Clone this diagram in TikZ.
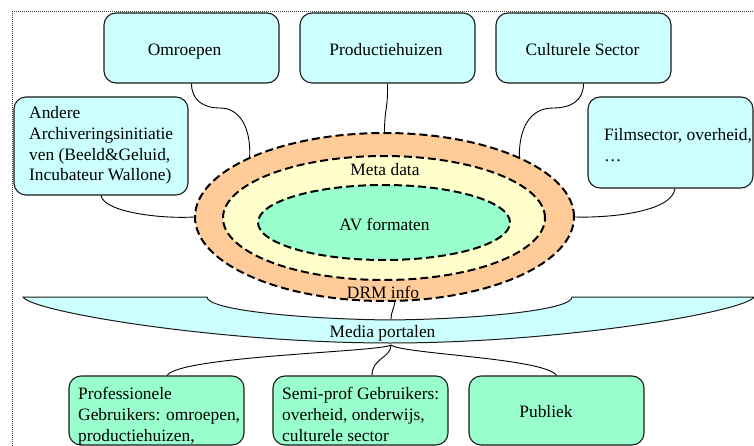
\documentclass[tikz,border=0pt]{standalone}
\usepackage{fontspec}
\setmainfont{Liberation Serif}
\usetikzlibrary{shapes.geometric}
\definecolor{cyanfill}{HTML}{CCFFFF}
\definecolor{orangefill}{HTML}{FFCC99}
\definecolor{yellowfill}{HTML}{FFFFCC}
\definecolor{greenfill}{HTML}{99FFCC}
\definecolor{edge}{HTML}{1A1A1A}
\tikzset{
  box/.style={draw=edge, line width=1.1pt, rounded corners=12pt, minimum width=175pt, inner sep=0pt},
  cbox/.style={box, fill=cyanfill},
  gbox/.style={box, fill=greenfill},
  txt/.style={inner sep=0pt, align=left},
  ring/.style={ellipse, draw=black, line width=2pt, dash pattern=on 8pt off 4pt, inner sep=0pt},
  conn/.style={draw=black, line width=0.9pt},
  frame/.style={draw=black!75, line width=1pt, densely dotted},
  band/.style={draw=edge, fill=cyanfill, line width=1pt},
}
\begin{document}
\begin{tikzpicture}[x=1pt,y=-1pt, font=\fontsize{17.4}{20.9}\selectfont]
\useasboundingbox (0,0) rectangle (754,446);
\fill[white] (0,0) rectangle (754,446);
\draw[frame] (12,446) -- (12,12) -- (754,12);

% top boxes
\node[cbox, minimum height=70pt] (omr) at (191.5,48) {};
\node[cbox, minimum height=70pt] (prod) at (387.5,48) {};
\node[cbox, minimum height=70pt] (cult) at (583.5,48) {};
\node[cbox, minimum width=174pt, minimum height=98pt] (andere) at (101,146) {};
\node[cbox, minimum width=165pt, minimum height=91pt] (film) at (670.5,142.5) {};

\node[txt, anchor=base] (omrT) at (184.5,56) {Omroepen};
\node[txt, anchor=base] (prodT) at (386,56) {Productiehuizen};
\node[txt, anchor=base] (cultT) at (582.5,56) {Culturele Sector};
\node[txt, anchor=north west] (andereT) at (29,106) {Andere\\Archiveringsinitiatie\\ven (Beeld\&Geluid,\\Incubateur Wallone)};
\node[txt, anchor=north west] (filmT) at (604,128) {Filmsector, overheid,\\…};

% rings
\node[ring, fill=orangefill, minimum width=379pt, minimum height=168pt] (drm) at (384.5,217) {};
\node[ring, fill=yellowfill, minimum width=322pt, minimum height=124pt] (meta) at (384,218) {};
\node[ring, fill=greenfill, minimum width=252pt, minimum height=75pt] (av) at (384,222.5) {};
\node[txt, anchor=base] (metaT) at (385,176) {Meta data};
\node[txt, anchor=base] (avT) at (384.5,231) {AV formaten};
\node[txt, anchor=base] (drmT) at (383,298) {DRM info};

% connectors top
\draw[conn] (omr.south) .. controls (191.5,100) and (203,108) .. (220,108) .. controls (240,108) and (251,128) .. (drm.156);
\draw[conn] (prod.south) .. controls (388,110) and (384.5,108) .. (drm.north);
\draw[conn] (cult.south) .. controls (583.5,100) and (572,108) .. (553,108) .. controls (530,108) and (519,128) .. (drm.24);
\draw[conn] (andere.south) .. controls (104,212) and (160,219) .. (drm.west);
\draw[conn] ([xshift=4.5pt]film.south) .. controls (672,212) and (610,218) .. (drm.east);

% media portalen band
\draw[band] (23,297) -- (207,297) .. controls (207,310) and (300,319) .. (390,320)
  .. controls (480,319) and (572,310) .. (572,297) -- (754,297)
  .. controls (745,312) and (560,343) .. (390,343)
  .. controls (220,343) and (32,312) .. (23,297) -- cycle;
\node[txt, anchor=base] (mediaT) at (382.5,337) {Media portalen};
\coordinate (bandtop) at (391,319);
\coordinate (bandbot) at (391,345);
\draw[conn] (drm.-83.5) .. controls (394,309) and (391,312) .. (bandtop);

% bottom boxes
\node[gbox, minimum height=69pt] (prof) at (156.5,410.5) {};
\node[gbox, minimum height=69pt] (semi) at (360.5,410.5) {};
\node[gbox, minimum height=69pt] (pub) at (556.5,410.5) {};
\node[txt, anchor=north west] (profT) at (78,387) {Professionele\\Gebruikers: omroepen,\\productiehuizen,};
\node[txt, anchor=north west] (semiT) at (282,387) {Semi-prof Gebruikers:\\overheid, onderwijs,\\culturele sector};
\node[txt, anchor=base] (pubT) at (546,417) {Publiek};

\draw[conn] (bandbot) .. controls (380,352) and (180,356) .. ([xshift=10.5pt]prof.north);
\draw[conn] (bandbot) .. controls (391,358) and (372,358) .. ([xshift=11.5pt]semi.north);
\draw[conn] (bandbot) .. controls (402,354) and (545,358) .. (pub.north);
\end{tikzpicture}
\end{document}
